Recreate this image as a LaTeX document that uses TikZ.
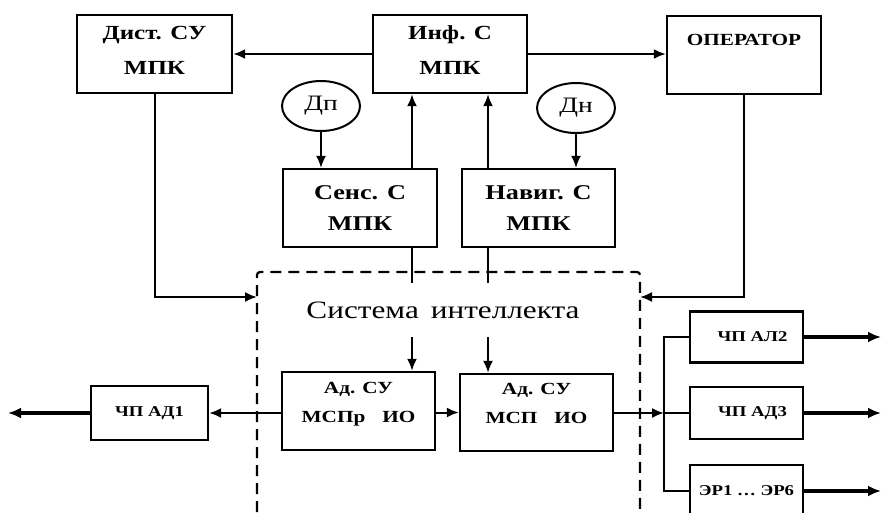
\documentclass[tikz,border=0pt]{standalone}
\usepackage{fontspec}
\setmainfont[FakeStretch=1.25]{Liberation Serif}
\usetikzlibrary{shapes.geometric}
\usetikzlibrary{arrows.meta}

\begin{document}
\begin{tikzpicture}[x=1pt,y=-1pt,
    box/.style={draw, line width=2.4pt, inner sep=0pt, align=center},
    oval/.style={draw, ellipse, line width=2pt, inner sep=0pt, minimum width=78pt, minimum height=50pt,
      font=\fontsize{22}{26}\selectfont},
    big/.style={font=\fontsize{20}{35}\selectfont\bfseries},
    mid/.style={font=\fontsize{21}{31}\selectfont\bfseries},
    small/.style={font=\fontsize{17}{29}\selectfont\bfseries},
    tiny/.style={font=\fontsize{15}{18}\selectfont\bfseries},
    arr/.style={-{Latex[length=12pt,width=10pt]}, line width=2pt},
    thinarr/.style={-{Latex[length=12pt,width=10pt]}, line width=1.5pt},
    fat/.style={-{Latex[length=13pt,width=11pt]}, line width=4pt},
    link/.style={line width=2pt}]
        \useasboundingbox (0,0) rectangle (881,512);

        % upper row: Дист. СУ, Инф. С, ОПЕРАТОР
        \node[box, big, minimum width=155pt, minimum height=78pt] (dist) at (154.5,54) {Дист. СУ\\МПК\\[-28pt]\mbox{}};
        \node[box, big, minimum width=154pt, minimum height=78pt] (inf) at (450,54) {Инф. С\\МПК\\[-28pt]\mbox{}};
        \node[box, minimum width=154pt, minimum height=78pt, align=center,
          font=\fontsize{17}{24}\selectfont\bfseries] (oper) at (744,55) {ОПЕРАТОР\\\strut};

        % sensors
        \node[oval] (dp) at (321,106) {Дп};
        \node[oval] (dn) at (576,108) {Дн};

        % Сенс. С and Навиг. С
        \node[box, mid, minimum width=154pt, minimum height=78pt] (sens) at (360,208) {Сенс. С\\МПК};
        \node[box, mid, minimum width=153pt, minimum height=78pt] (navig) at (538.5,208) {Навиг. С\\МПК};

        % dashed frame of the intelligence system
        \coordinate (sysBL) at (257,530);
        \coordinate (sysTL) at (257,272);
        \coordinate (sysTR) at (640,272);
        \coordinate (sysBR) at (640,530);
        \draw[line width=2.2pt, dash pattern=on 11pt off 7pt, rounded corners=3pt]
          (sysBL) -- (sysTL) -- (sysTR) -- (sysBR);
        \node[font=\fontsize{25}{30}\selectfont] (systxt) at (443,310) {Система\, интеллекта};

        % adaptive control blocks
        \node[box, small, minimum width=153pt, minimum height=78pt] (adr) at (358.5,411) {Ад. СУ\\МСПр\quad ИО\\[-20pt]\strut};
        \node[box, small, minimum width=153pt, minimum height=77pt] (adp) at (536.5,412.5) {Ад. СУ\\МСП\quad ИО\\[-20pt]\strut};

        % drives
        \node[box, tiny, minimum width=117pt, minimum height=54pt] (chp1) at (149.5,413) {ЧП АД1};
        \node[box, tiny, minimum width=113pt, minimum height=51pt] (chp2) at (746.5,337) {\hspace*{12pt}ЧП АЛ2};
        \node[box, tiny, minimum width=113pt, minimum height=52pt] (chp3) at (746.5,413) {\hspace*{12pt}ЧП АД3};
        \node[box, tiny, minimum width=113pt, minimum height=52pt] (er) at (746.5,491) {ЭР1 … ЭР6};

        % free ends
        \coordinate (sysL) at (257,297);
        \coordinate (sysR) at (640,297);
        \coordinate (sensin) at (412,283);
        \coordinate (navin) at (488,283);
        \coordinate (sensout) at (412,337);
        \coordinate (navout) at (488,337);
        \coordinate (bus) at (664,413);
        \coordinate (out1) at (8,413);
        \coordinate (outR) at (881,0);

        % top links
        \draw[arr] (inf.west) -- (dist.east);
        \draw[arr] (inf.east) -- (inf.east -| oper.west);
        \draw[thinarr] (dp.south) -- (dp.south |- sens.north);
        \draw[thinarr] (dn.south) -- (dn.south |- navig.north);

        % up to Инф. С
        \draw[link] (sensin) -- (sensin |- sens.south);
        \draw[arr] (sensin |- sens.north) -- (sensin |- inf.south);
        \draw[link] (navin) -- (navin |- navig.south);
        \draw[arr] (navin |- navig.north) -- (navin |- inf.south);

        % into the system
        \draw[arr] (dist.south) |- (sysL);
        \draw[arr] (oper.south) |- (sysR);
        \draw[arr] (sensout) -- (sensout |- adr.north);
        \draw[arr] (navout) -- (navout |- adp.north);

        % to the drives
        \draw[arr] (adr.west |- chp1.east) -- (chp1.east);
        \draw[fat] (chp1.west) -- (out1);
        \draw[arr] (adr.east |- adp.west) -- (adp.west);
        \draw[arr] (adp.east |- bus) -- (bus);
        \draw[link] (chp2.west) -| (bus) |- (er.west);
        \draw[link] (bus) -- (chp3.west);
        \draw[fat] (chp2.east) -- (chp2.east -| outR);
        \draw[fat] (chp3.east) -- (chp3.east -| outR);
        \draw[fat] (er.east) -- (er.east -| outR);

      \end{tikzpicture}
\end{document}
